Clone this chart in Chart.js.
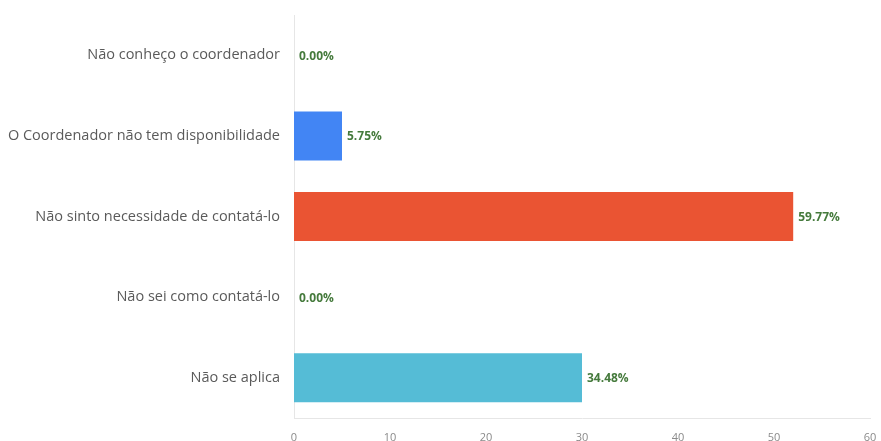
<!DOCTYPE html>
<html><head><meta charset="utf-8">
<script src="https://cdn.jsdelivr.net/npm/chart.js@4/dist/chart.umd.min.js"></script>
<style>html,body{margin:0;padding:0;background:#fff}#wrap{width:881px;height:441px}</style>
</head><body><div id="wrap"><canvas id="c"></canvas></div>
<script>
const categories = ["Não conheço o coordenador","O Coordenador não tem disponibilidade","Não sinto necessidade de contatá-lo","Não sei como contatá-lo","Não se aplica"];
const counts = [0, 5, 52, 0, 30];
const pctLabels = ["0.00%","5.75%","59.77%","0.00%","34.48%"];
const barColors = ["#4285F4","#4285F4","#EA5433","#4285F4","#55BCD6"];
const xTicks = [0,10,20,30,40,50,60];

const valueLabels = {
  id:'valueLabels',
  afterDatasetsDraw(chart){
    const {ctx} = chart;
    const meta = chart.getDatasetMeta(0);
    ctx.save();
    ctx.font = "bold 12px 'Open Sans', Roboto, sans-serif";
    ctx.fillStyle = "#457a3c";
    ctx.textAlign = "left";
    ctx.textBaseline = "middle";
    meta.data.forEach((bar,i)=>{
      ctx.fillText(pctLabels[i], bar.x + 5, bar.y + 1);
    });
    ctx.restore();
  }
};

new Chart(document.getElementById('c'), {
  type:'bar',
  data:{labels:categories, datasets:[{data:counts, backgroundColor:barColors, borderWidth:0, barPercentage:0.76, categoryPercentage:0.8}]},
  options:{
    indexAxis:'y', responsive:true, maintainAspectRatio:false, animation:false,
    layout:{padding:{top:15,right:11,bottom:0,left:0}},
    plugins:{legend:{display:false},tooltip:{enabled:false}},
    scales:{
      x:{min:0,max:60,
        afterBuildTicks(s){s.ticks = xTicks.map(v=>({value:v}));},
        afterFit(s){s.height = 23; s.paddingRight = 0; s.paddingLeft = 0;},
        grid:{display:false, drawTicks:false},
        border:{display:true,color:'#e6e6e6',width:1},
        ticks:{color:'#8a8a8a',font:{family:"'Open Sans', Roboto, sans-serif",size:11},padding:13}
      },
      y:{
        afterFit(s){s.width = 294; s.paddingTop = 0; s.paddingBottom = 0;},
        grid:{display:false, drawTicks:false},
        border:{display:true,color:'#e6e6e6',width:1},
        ticks:{color:'#5a5a5a',font:{family:"'Open Sans', Roboto, sans-serif",size:14.5},padding:14}
      }
    }
  },
  plugins:[valueLabels]
});
</script></body></html>
